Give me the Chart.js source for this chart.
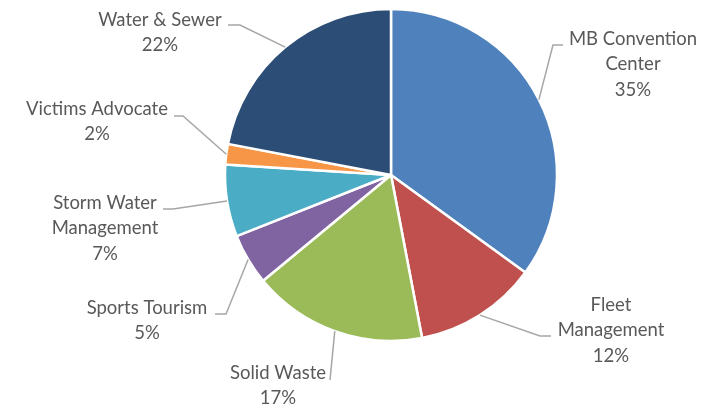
<!DOCTYPE html>
<html>
<head>
<meta charset="utf-8">
<script src="https://cdn.jsdelivr.net/npm/chart.js@4/dist/chart.umd.min.js"></script>
<style>
    html, body { margin: 0; padding: 0; background: #fff; }
    #wrap { width: 712px; height: 408px; }
</style>
</head>
<body>
<div id="wrap"><canvas id="pieChart" width="712" height="408"></canvas></div>
<script>
// Chart data
const categories = [
    ['MB Convention', 'Center'],
    ['Fleet', 'Management'],
    ['Solid Waste'],
    ['Sports Tourism'],
    ['Storm Water', 'Management'],
    ['Victims Advocate'],
    ['Water & Sewer']
];
const shares = [35, 12, 17, 5, 7, 2, 22];
const sliceColors = ['#4F81BD', '#C0504D', '#9BBB59', '#8064A2', '#4BACC6', '#F79646', '#2C4D75'];

// Where each data label sits: text centre, leader elbow, end of short stub
const labelLayout = [
    { tx: 633, ty: 39,  ex: 553, ey: 45,  hx: 563 },
    { tx: 611, ty: 305, ex: 540, ey: 336, hx: 551 },
    { tx: 278, ty: 373, ex: 330, ey: 380, hx: 330 },
    { tx: 147, ty: 308, ex: 226, ey: 314, hx: 215 },
    { tx: 105, ty: 203, ex: 173, ey: 209, hx: 163 },
    { tx: 97,  ty: 109, ex: 183, ey: 116, hx: 174 },
    { tx: 160, ty: 20,  ex: 240, ey: 25,  hx: 228 }
];

const lineHeight = 25.5;

// Draws the outside labels with leader lines, anchored on each arc's middle
const outsideLabels = {
    id: 'outsideLabels',
    afterDatasetsDraw(chart) {
        const ctx = chart.ctx;
        const meta = chart.getDatasetMeta(0);
        ctx.save();
        meta.data.forEach((arc, i) => {
            const { x, y, startAngle, endAngle, outerRadius } = arc.getProps(['x', 'y', 'startAngle', 'endAngle', 'outerRadius'], true);
            const mid = (startAngle + endAngle) / 2;
            const ax = x + Math.cos(mid) * outerRadius;
            const ay = y + Math.sin(mid) * outerRadius;
            const lay = labelLayout[i];

            ctx.strokeStyle = '#A6A6A6';
            ctx.lineWidth = 1.5;
            ctx.beginPath();
            ctx.moveTo(ax, ay);
            ctx.lineTo(lay.ex, lay.ey);
            ctx.lineTo(lay.hx, lay.ey);
            ctx.stroke();

            const lines = chart.data.labels[i].concat([shares[i] + '%']);
            ctx.fillStyle = '#595959';
            ctx.font = '18.5px Lato';
            ctx.textAlign = 'center';
            ctx.textBaseline = 'middle';
            lines.forEach((t, k) => ctx.fillText(t, lay.tx, lay.ty + k * lineHeight));
        });
        ctx.restore();
    }
};

new Chart(document.getElementById('pieChart').getContext('2d'), {
    type: 'pie',
    data: {
        labels: categories,
        datasets: [{
            data: shares,
            backgroundColor: sliceColors,
            borderColor: '#ffffff',
            borderWidth: 2.5,
            radius: 166
        }]
    },
    options: {
        responsive: false,
        animation: false,
        layout: { padding: { left: 70, right: 0, top: 8, bottom: 66 } },
        plugins: {
            legend: { display: false },
            tooltip: { enabled: false }
        }
    },
    plugins: [outsideLabels]
});
</script>
</body>
</html>
